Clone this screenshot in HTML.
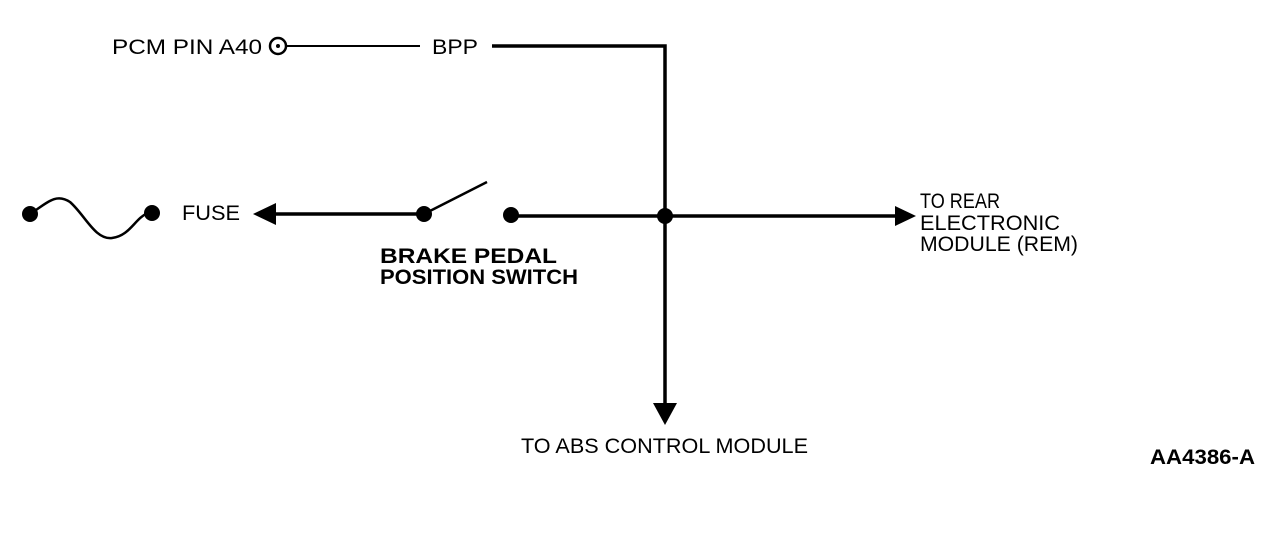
<!DOCTYPE html>
<html><head><meta charset="utf-8"><style>
html,body{margin:0;padding:0;background:#fff;}
svg{display:block;}
text{font-family:"Liberation Sans",sans-serif;font-size:21px;fill:#000;}
.b{font-weight:bold;}
</style></head><body>
<svg width="1280" height="544" viewBox="0 0 1280 544" xmlns="http://www.w3.org/2000/svg">
<rect width="1280" height="544" fill="#fff"/>
<circle cx="278" cy="46" r="8" fill="none" stroke="#000" stroke-width="2.5"/>
<circle cx="278" cy="46" r="2" fill="#000"/>
<line x1="286" y1="46" x2="420" y2="46" stroke="#000" stroke-width="2"/>
<polyline points="492,46 665,46 665,405" fill="none" stroke="#000" stroke-width="3.5"/>
<polygon points="653,403 677,403 665,425" fill="#000"/>
<line x1="511" y1="216" x2="897" y2="216" stroke="#000" stroke-width="3.5"/>
<polygon points="895,206 895,226 916,216" fill="#000"/>
<circle cx="665" cy="216" r="8" fill="#000"/>
<circle cx="511" cy="215" r="8" fill="#000"/>
<circle cx="424" cy="214" r="8" fill="#000"/>
<line x1="424" y1="214" x2="487" y2="182" stroke="#000" stroke-width="2.5"/>
<line x1="272" y1="214" x2="420" y2="214" stroke="#000" stroke-width="3.5"/>
<polygon points="253,214 276,203 276,225" fill="#000"/>
<circle cx="30" cy="214" r="8" fill="#000"/>
<circle cx="152" cy="213" r="8" fill="#000"/>
<path d="M36,210 C50,200 58,194 70,202 C85,215 95,240 112,238 C130,236 135,218 148,213" fill="none" stroke="#000" stroke-width="2.5"/>
<text x="112" y="54" textLength="150" lengthAdjust="spacingAndGlyphs">PCM PIN A40</text>
<text x="432" y="54" textLength="46" lengthAdjust="spacingAndGlyphs">BPP</text>
<text x="182" y="220" textLength="58" lengthAdjust="spacingAndGlyphs">FUSE</text>
<text class="b" x="380" y="263" textLength="177" lengthAdjust="spacingAndGlyphs">BRAKE PEDAL</text>
<text class="b" x="380" y="284" textLength="198" lengthAdjust="spacingAndGlyphs">POSITION SWITCH</text>
<text x="920" y="208" textLength="80" lengthAdjust="spacingAndGlyphs">TO REAR</text>
<text x="920" y="230" textLength="140" lengthAdjust="spacingAndGlyphs">ELECTRONIC</text>
<text x="920" y="251" textLength="158" lengthAdjust="spacingAndGlyphs">MODULE (REM)</text>
<text x="521" y="453" textLength="287" lengthAdjust="spacingAndGlyphs">TO ABS CONTROL MODULE</text>
<text class="b" x="1150" y="464" textLength="105" lengthAdjust="spacingAndGlyphs">AA4386-A</text>
</svg>
</body></html>
